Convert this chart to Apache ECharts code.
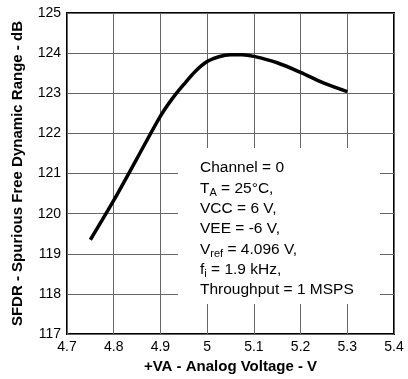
<!DOCTYPE html>
<html>
<head>
<meta charset="utf-8">
<script src="https://cdn.jsdelivr.net/npm/echarts@6/dist/echarts.min.js"></script>
<style>
  html, body { margin: 0; padding: 0; background: #fff; }
  #sfdrChart { width: 408px; height: 379px; }
</style>
</head>
<body>
<div id="sfdrChart"></div>
<script>
// data
var voltage = [4.75, 4.8, 4.85, 4.9, 4.925, 4.95, 4.975, 5.0, 5.025, 5.05, 5.075, 5.1, 5.15, 5.2, 5.25, 5.3]
var sfdr = [119.35, 120.33, 121.38, 122.43, 122.86, 123.22, 123.55, 123.79, 123.91, 123.96, 123.96, 123.92, 123.76, 123.52, 123.25, 123.04]
var noteLines = [
  'Channel = 0',
  'T{sub|A} = 25°C,',
  'VCC = 6 V,',
  'VEE = -6 V,',
  'V{sub|ref} = 4.096 V,',
  'f{sub|i} = 1.9 kHz,',
  'Throughput = 1 MSPS'
]

var font = 'Liberation Sans, Arial, sans-serif'
var myChart = echarts.init(document.getElementById('sfdrChart'))

var option = {
  animation: false,
  grid: {
    left: 67, right: 14, top: 13, bottom: 44,
    show: true, borderColor: '#000', borderWidth: 2
  },
  xAxis: {
    type: 'value',
    min: 4.7, max: 5.4, interval: 0.1,
    name: '+VA - Analog Voltage - V',
    nameLocation: 'middle',
    nameGap: 20,
    nameTextStyle: { fontFamily: font, fontWeight: 'bold', fontSize: 15, color: '#000' },
    axisLine: { show: false },
    axisTick: { show: false },
    axisLabel: {
      fontFamily: font, fontSize: 14, color: '#000', margin: 6,
      formatter: function (v) { return +v.toFixed(1) + '' }
    },
    splitLine: { lineStyle: { color: '#666', width: 1 } }
  },
  yAxis: {
    type: 'value',
    min: 117, max: 125, interval: 1,
    name: 'SFDR - Spurious Free Dynamic Range - dB',
    nameLocation: 'middle',
    nameGap: 42,
    nameTextStyle: { fontFamily: font, fontWeight: 'bold', fontSize: 15, color: '#000' },
    axisLine: { show: false },
    axisTick: { show: false },
    axisLabel: { fontFamily: font, fontSize: 14, color: '#000', margin: 6 },
    splitLine: { lineStyle: { color: '#666', width: 1 } }
  },
  graphic: [
    {
      type: 'rect', left: 178, top: 148, z: 10,
      shape: { width: 202, height: 156 },
      style: { fill: '#fff' }
    },
    {
      type: 'text', left: 200, top: 158, z: 11,
      style: {
        text: noteLines.join('\n'),
        fontFamily: font, fontSize: 15.5, lineHeight: 20.3, fill: '#000',
        rich: {
          sub: { fontFamily: font, fontSize: 11, verticalAlign: 'bottom', lineHeight: 20.3 }
        }
      }
    }
  ],
  series: [
    {
      type: 'line',
      data: voltage.map(function (v, i) { return [v, sfdr[i]] }),
      smooth: 0.3,
      showSymbol: false,
      lineStyle: { color: '#000', width: 3.5 }
    }
  ]
}

myChart.setOption(option)
</script>
</body>
</html>
